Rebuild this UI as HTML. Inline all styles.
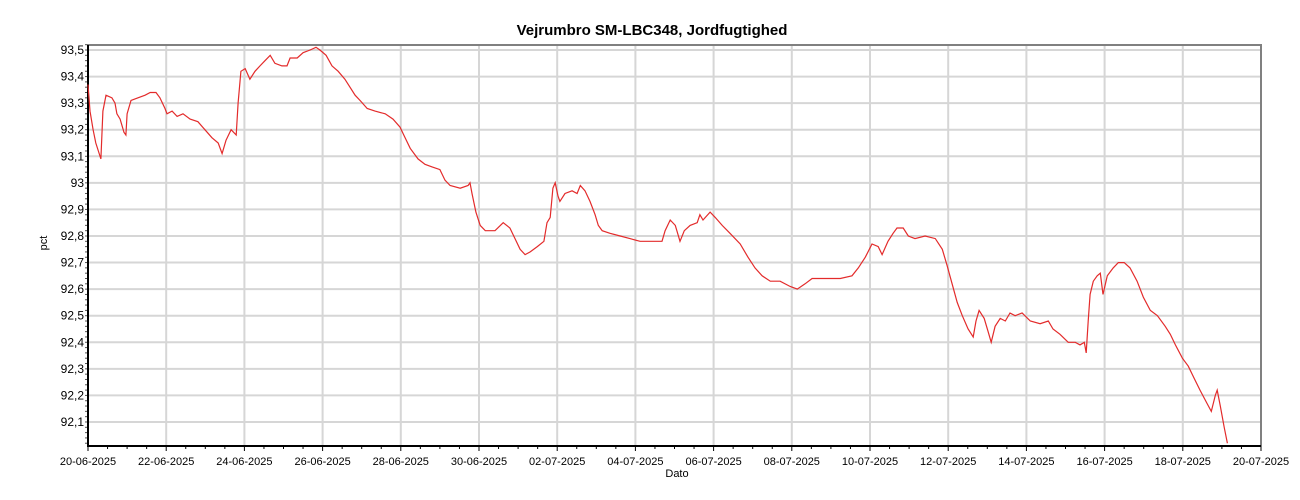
<!DOCTYPE html>
<html><head><meta charset="utf-8"><style>
body{margin:0;background:#fff;}
svg{display:block;font-family:"Liberation Sans",sans-serif;}
</style></head><body>
<svg id="chart" width="1300" height="500" viewBox="0 0 1300 500">
<text x="652" y="35" text-anchor="middle" font-size="15" font-weight="bold">Vejrumbro SM-LBC348, Jordfugtighed</text>
<text x="0" y="0" transform="translate(47,243) rotate(-90)" text-anchor="middle" font-size="11">pct</text>
<text x="677" y="477" text-anchor="middle" font-size="11">Dato</text>
<g id="grid"></g>
<g id="axes"></g>
<path id="line" fill="none" stroke="#e32b2b" stroke-width="1.2"/>
</svg>
<script>
const days=[0,.05,.13,.20,.33,.38,.46,.61,.69,.74,.82,.92,.97,1.0,1.1,1.28,1.46,1.59,1.74,1.84,1.97,2.02,2.15,2.28,2.43,2.61,2.81,2.99,3.17,3.33,3.43,3.53,3.66,3.79,3.84,3.91,4.02,4.14,4.27,4.40,4.53,4.66,4.78,4.96,5.09,5.17,5.35,5.50,5.68,5.83,5.93,6.09,6.24,6.40,6.57,6.70,6.83,6.96,7.14,7.34,7.60,7.80,7.98,8.11,8.24,8.44,8.62,8.80,9.0,9.13,9.26,9.52,9.72,9.77,9.82,9.92,10.03,10.16,10.41,10.62,10.79,10.92,11.05,11.18,11.31,11.49,11.66,11.74,11.82,11.89,11.95,12.02,12.07,12.20,12.38,12.51,12.59,12.71,12.84,12.97,13.05,13.15,13.35,13.61,13.86,14.12,14.38,14.68,14.76,14.89,15.02,15.14,15.25,15.40,15.58,15.65,15.73,15.91,16.04,16.22,16.42,16.68,16.88,17.06,17.24,17.45,17.70,17.96,18.14,18.34,18.52,18.72,18.98,19.24,19.54,19.70,19.88,20.05,20.21,20.31,20.46,20.59,20.69,20.85,20.98,21.15,21.41,21.67,21.85,21.97,22.10,22.23,22.36,22.51,22.64,22.71,22.79,22.92,23.02,23.10,23.20,23.33,23.46,23.58,23.71,23.89,24.10,24.35,24.56,24.68,24.86,25.07,25.25,25.37,25.48,25.53,25.58,25.63,25.71,25.81,25.89,25.96,26.07,26.22,26.35,26.50,26.65,26.83,26.99,27.17,27.35,27.55,27.68,27.81,27.99,28.14,28.27,28.44,28.62,28.73,28.83,28.88,28.96,29.06,29.14];
const values=[93.37,93.27,93.2,93.15,93.09,93.27,93.33,93.32,93.3,93.26,93.24,93.19,93.18,93.26,93.31,93.32,93.33,93.34,93.34,93.32,93.28,93.26,93.27,93.25,93.26,93.24,93.23,93.2,93.17,93.15,93.11,93.16,93.2,93.18,93.3,93.42,93.43,93.39,93.42,93.44,93.46,93.48,93.45,93.44,93.44,93.47,93.47,93.49,93.50,93.51,93.50,93.48,93.44,93.42,93.39,93.36,93.33,93.31,93.28,93.27,93.26,93.24,93.21,93.17,93.13,93.09,93.07,93.06,93.05,93.01,92.99,92.98,92.99,93.0,92.96,92.89,92.84,92.82,92.82,92.85,92.83,92.79,92.75,92.73,92.74,92.76,92.78,92.85,92.87,92.98,93.0,92.95,92.93,92.96,92.97,92.96,92.99,92.97,92.93,92.88,92.84,92.82,92.81,92.80,92.79,92.78,92.78,92.78,92.82,92.86,92.84,92.78,92.82,92.84,92.85,92.88,92.86,92.89,92.87,92.84,92.81,92.77,92.72,92.68,92.65,92.63,92.63,92.61,92.60,92.62,92.64,92.64,92.64,92.64,92.65,92.68,92.72,92.77,92.76,92.73,92.78,92.81,92.83,92.83,92.80,92.79,92.80,92.79,92.75,92.69,92.62,92.55,92.50,92.45,92.42,92.48,92.52,92.49,92.44,92.40,92.46,92.49,92.48,92.51,92.50,92.51,92.48,92.47,92.48,92.45,92.43,92.40,92.40,92.39,92.40,92.36,92.48,92.58,92.63,92.65,92.66,92.58,92.65,92.68,92.70,92.70,92.68,92.63,92.57,92.52,92.50,92.46,92.43,92.39,92.34,92.31,92.27,92.22,92.17,92.14,92.20,92.22,92.16,92.08,92.02];
const yTicks=[93.5,93.4,93.3,93.2,93.1,93.0,92.9,92.8,92.7,92.6,92.5,92.4,92.3,92.2,92.1];
const yTickLabels=["93,5","93,4","93,3","93,2","93,1","93","92,9","92,8","92,7","92,6","92,5","92,4","92,3","92,2","92,1"];
const xTickDays=[0,2,4,6,8,10,12,14,16,18,20,22,24,26,28,30];
const xTickLabels=["20-06-2025","22-06-2025","24-06-2025","26-06-2025","28-06-2025","30-06-2025","02-07-2025","04-07-2025","06-07-2025","08-07-2025","10-07-2025","12-07-2025","14-07-2025","16-07-2025","18-07-2025","20-07-2025"];

const L=88,R=1261,T=45,B=446;
const X=d=>L+d*(R-L)/30;
const Y=v=>50+(93.5-v)*265.7;
const NS="http://www.w3.org/2000/svg";
function mk(parent,tag,attrs){const e=document.createElementNS(NS,tag);for(const k in attrs)e.setAttribute(k,attrs[k]);parent.appendChild(e);return e;}
const grid=document.getElementById('grid'),axes=document.getElementById('axes');
yTicks.forEach((v,i)=>{
  const g=mk(grid,'line',{x1:L,x2:R,y1:Y(v),y2:Y(v),stroke:'#d6d6d6','stroke-width':2});
  
  
  const t=mk(axes,'text',{x:L-4,y:Y(v)+4,'text-anchor':'end','font-size':12});
  t.textContent=yTickLabels[i];
  
  
});
xTickDays.forEach((d,i)=>{
  if(d>0&&d<30){const g=mk(grid,'line',{x1:X(d),x2:X(d),y1:T,y2:B,stroke:'#d6d6d6','stroke-width':2});
  
  }
  const tk=mk(axes,'line',{x1:X(d),x2:X(d),y1:B,y2:B+5,stroke:'#000'});
  
  
  const t=mk(axes,'text',{x:X(d),y:B+19,'text-anchor':'middle','font-size':11});
  t.textContent=xTickLabels[i];
  
  
});
for(let d=0.5;d<30;d+=0.5){if(d%2===0)continue;
  const m=mk(axes,'line',{x1:X(d),x2:X(d),y1:B,y2:B+3,stroke:'#000'});
  
  }
for(let v=92.02;v<=93.52;v+=0.02){
  const m=mk(axes,'line',{x1:L-3,x2:L,y1:Y(v),y2:Y(v),stroke:'#555'});
  
  }
const fr=mk(axes,'path',{d:`M${L} ${T}H${R}V${B}`,fill:'none',stroke:'#808080','stroke-width':2});


const ax=mk(axes,'path',{d:`M${L} ${T}V${B}H${R}`,fill:'none',stroke:'#000','stroke-width':2});


document.getElementById('line').setAttribute('d',days.map((d,i)=>(i?'L':'M')+X(d).toFixed(1)+' '+Y(values[i]).toFixed(1)).join(''));
</script>
</body></html>
